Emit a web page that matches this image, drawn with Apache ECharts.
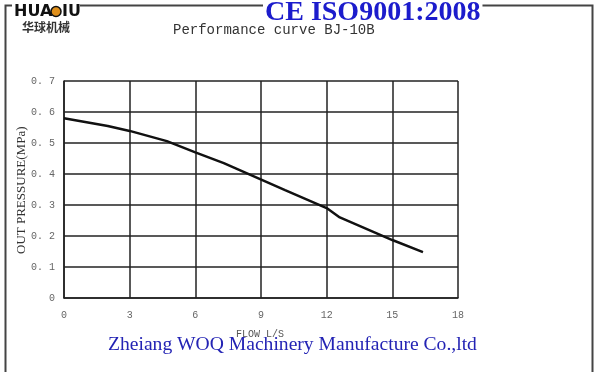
<!DOCTYPE html>
<html>
<head>
<meta charset="utf-8">
<script src="https://cdn.jsdelivr.net/npm/echarts@6/dist/echarts.min.js"></script>
<style>html,body{margin:0;padding:0;background:#fff}#c{width:600px;height:372px}</style>
</head>
<body>
<div id="c"></div>
<script>
// Data
const flow = [0, 2, 3, 4.7, 6, 7.3, 10.1, 12, 12.6, 15, 16.4];
const pressure = [0.58, 0.555, 0.539, 0.506, 0.47, 0.435, 0.348, 0.29, 0.26, 0.187, 0.148];
const xTicks = [0, 3, 6, 9, 12, 15, 18];
const yTicks = [0, 0.1, 0.2, 0.3, 0.4, 0.5, 0.6, 0.7];
const titleText = 'Performance curve BJ-10B';
const xName = 'FLOW L/S';
const yName = 'OUT PRESSURE(MPa)';
const certText = 'CE ISO9001:2008';
const companyText = 'Zheiang WOQ Machinery Manufacture Co.,ltd';
const brandText = ['HUA', 'IU'];
const brandCn = '华球机械';

const chart = echarts.init(document.getElementById('c'), null, {renderer: 'canvas'});
const mono = '"Liberation Mono","DejaVu Sans Mono",monospace';
const serif = '"Liberation Serif","DejaVu Serif",serif';
chart.setOption({
  animation: false,
  backgroundColor: '#fff',
  grid: {left: 64, right: 142, top: 81, bottom: 74},
  xAxis: {
    type: 'value', min: xTicks[0], max: xTicks[xTicks.length - 1], interval: 3,
    axisLine: {show: true, lineStyle: {color: '#222', width: 1.5}},
    axisTick: {show: false},
    splitLine: {show: true, lineStyle: {color: '#222', width: 1.5}},
    axisLabel: {color: '#666', fontFamily: mono, fontSize: 10, margin: 12}
  },
  yAxis: {
    type: 'value', min: yTicks[0], max: yTicks[yTicks.length - 1], interval: 0.1,
    axisLine: {show: true, lineStyle: {color: '#222', width: 1.5}},
    axisTick: {show: false},
    splitLine: {show: true, lineStyle: {color: '#222', width: 1.5}},
    axisLabel: {color: '#666', fontFamily: mono, fontSize: 10, margin: 9,
      formatter: v => (Math.abs(v) < 1e-9 ? '0' : v.toFixed(1).replace('.', '. '))}
  },
  series: [{
    type: 'line',
    data: flow.map((f, i) => [f, pressure[i]]),
    showSymbol: false,
    smooth: false,
    lineStyle: {color: '#111', width: 2.5},
    z: 5
  }],
  graphic: [
    // outer frame
    {type: 'polyline', shape: {points: [[5.5, 380], [5.5, 5.5], [592.5, 5.5], [592.5, 380]]},
      style: {stroke: '#444', lineWidth: 2, fill: null}, z: 1},
    // brand logo
    {type: 'rect', shape: {x: 12, y: 0, width: 68, height: 20}, style: {fill: '#fff'}, z: 2},
    {type: 'text', left: 14, top: 4, z: 3,
      style: {text: brandText[0], font: 'bold 16px "DejaVu Sans", sans-serif', fill: '#111'}},
    {type: 'circle', shape: {cx: 56, cy: 11.5, r: 5}, style: {fill: '#e0901c', stroke: '#111', lineWidth: 1.5}, z: 3},
    {type: 'text', left: 62, top: 4, z: 3,
      style: {text: brandText[1], font: 'bold 16px "DejaVu Sans", sans-serif', fill: '#111'}},
    {type: 'text', left: 22, top: 21, z: 3,
      style: {text: brandCn, font: 'bold 12px "Noto Sans CJK SC", sans-serif', fill: '#333'}},
    // certification
    {type: 'text', left: 263, top: -1, z: 3,
      style: {text: certText, font: 'bold 28px ' + serif, fill: '#1c1ccc',
        backgroundColor: '#fff', padding: [0, 2, 0, 2]}},
    // title
    {type: 'text', left: 173, top: 23, z: 3,
      style: {text: titleText, font: '14px ' + mono, fill: '#333'}},
    // y axis name
    {type: 'text', x: 15, y: 254, rotation: Math.PI / 2, z: 3,
      style: {text: yName, font: '13px ' + serif, fill: '#333', textAlign: 'left', textVerticalAlign: 'top'}},
    // x axis name
    {type: 'text', left: 236, top: 329, z: 3,
      style: {text: xName, font: '10px ' + mono, fill: '#555'}},
    // company name
    {type: 'text', left: 108, top: 335, z: 4,
      style: {text: companyText, font: '19.6px ' + serif, fill: '#2323b4'}}
  ]
});
</script>
</body>
</html>
